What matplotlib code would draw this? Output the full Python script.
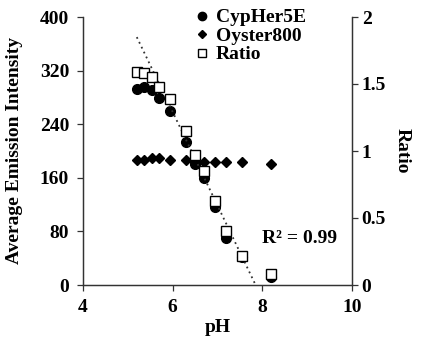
import matplotlib
matplotlib.use('Agg')
import matplotlib.pyplot as plt
from matplotlib.lines import Line2D

ph = [5.2, 5.35, 5.55, 5.7, 5.95, 6.3, 6.5, 6.7, 6.95, 7.2, 7.55, 8.2]
cypher = [293, 296, 291, 279, 259, 214, 180, 160, 117, 70, 42, 12]
oyster = [186, 187, 189, 189, 187, 186, 184, 184, 184, 184, 184, 181]
ratio = [1.59, 1.58, 1.55, 1.48, 1.39, 1.15, 0.97, 0.85, 0.63, 0.40, 0.22, 0.08]

fit_ph = [5.2, 7.85]
fit_ratio = [1.85, 0.0]

left_ticks = [0, 80, 160, 240, 320, 400]
right_ticks = [0, 0.5, 1, 1.5, 2]
right_labels = ['0', '0.5', '1', '1.5', '2']
x_ticks = [4, 6, 8, 10]

plt.rcParams['font.family'] = ['Liberation Serif', 'DejaVu Serif']
plt.rcParams['font.weight'] = 'bold'
fs = 14

fig = plt.figure(figsize=(4.22, 3.46), dpi=100)
ax = fig.add_axes([83/422, 1 - 285/346, (352 - 83)/422, (285 - 17)/346])
ax2 = ax.twinx()

ax.plot(ph, cypher, 'o', color='black', markersize=7, zorder=3)
ax.plot(ph, oyster, 'D', color='black', markersize=5.5, zorder=3)
ax2.plot(fit_ph, fit_ratio, linestyle=(0, (1, 2)), color='#333333', linewidth=1.3)
ax2.plot(ph, ratio, 's', markerfacecolor='white', markeredgecolor='black',
         markeredgewidth=1.0, markersize=7.5, zorder=4)

ax.set_xlim(4, 10)
ax.set_ylim(0, 400)
ax2.set_ylim(0, 2)
ax.set_xticks(x_ticks)
ax.set_yticks(left_ticks)
ax2.set_yticks(right_ticks)
ax2.set_yticklabels(right_labels)

for a in (ax, ax2):
    a.spines['top'].set_visible(False)
    for s in a.spines.values():
        s.set_color('#333333')
        s.set_linewidth(0.9)
    a.tick_params(direction='out', length=4, width=0.9, color='#333333',
                  labelsize=fs, pad=3)
ax.tick_params(axis='x', pad=6)
ax.tick_params(axis='y', pad=6)

ax.set_xlabel('pH', fontsize=fs, fontweight='bold', labelpad=2)
ax.set_ylabel('Average Emission Intensity', fontsize=fs, fontweight='bold', labelpad=12)
ax2.set_ylabel('Ratio', fontsize=fs, fontweight='bold', rotation=270, labelpad=18)

ax.text(8.0, 70, 'R² = 0.99', fontsize=fs, fontweight='bold', va='center', ha='left')

handles = [
    Line2D([], [], marker='o', color='black', linestyle='none', markersize=6),
    Line2D([], [], marker='D', color='black', linestyle='none', markersize=4),
    Line2D([], [], marker='s', markerfacecolor='white', markeredgecolor='black',
           linestyle='none', markersize=6),
]
ax2.legend(handles, ['CypHer5E', 'Oyster800', 'Ratio'], loc='upper left',
           bbox_to_anchor=(0.37, 1.06), frameon=False, fontsize=fs,
           handletextpad=0.1, labelspacing=0.05, handlelength=1.2,
           borderaxespad=0)

fig.savefig('out.png', dpi=100)
